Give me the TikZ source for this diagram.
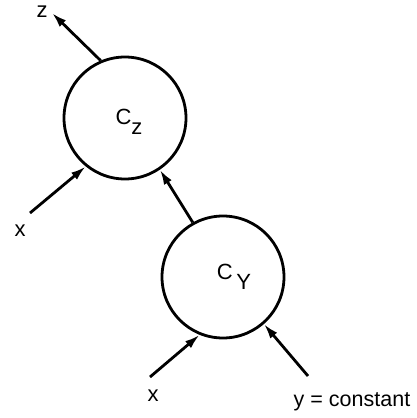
\documentclass[tikz,border=0pt]{standalone}
\usepackage{fontspec}
\setmainfont{Liberation Sans}
\usetikzlibrary{arrows.meta}
\begin{document}
\begin{tikzpicture}[x=1pt,y=-1pt,
  blob/.style={circle,draw,line width=2.8pt,minimum size=122pt,inner sep=0pt},
  arr/.style={line width=2.8pt,-{Latex[length=15pt,width=9pt]}},
  lbl/.style={font=\fontsize{22}{22}\selectfont,inner sep=0pt}]
\useasboundingbox (0,0) rectangle (417,418);
\node[blob] (cz) at (125,118) {};
\node[blob] (cy) at (223,277) {};
\node[lbl] (czl) at (129,122) {C\raisebox{-10pt}{z}};
\node[lbl] (cyl) at (234,277) {C\raisebox{-10pt}{\,Y}};
\node[lbl] (zl) at (42,12) {z};
\node[lbl] (x1) at (20,231) {x};
\node[lbl] (x2) at (153,396) {x};
\node[lbl,font=\fontsize{21.5}{21.5}\selectfont] (yl) at (352,402) {y = constant};
\coordinate (zt) at (52,13);
\coordinate (x1s) at (30,213);
\coordinate (x2s) at (150,377);
\coordinate (ys) at (308,376);
\draw[arr] (cz.113) -- (zt);
\draw[arr] (x1s) -- (cz.231);
\draw[arr] (cy.119) -- (cz.304);
\draw[arr] (x2s) -- (cy.248);
\draw[arr] (ys) -- (cy.311);
\end{tikzpicture}
\end{document}
